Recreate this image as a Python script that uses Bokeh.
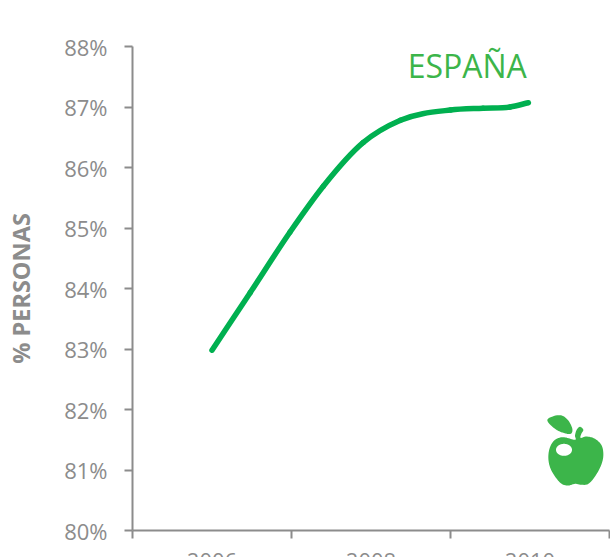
from bokeh.plotting import figure
from bokeh.embed import file_html
from bokeh.resources import INLINE
from bokeh.models import FixedTicker, Range1d, Label
import numpy as np

years = [2006.0, 2006.48, 2006.98, 2007.40, 2007.90, 2008.37, 2009.0, 2009.41, 2009.75, 2009.98]
espana = [82.98, 83.93, 84.93, 85.69, 86.41, 86.78, 86.95, 86.98, 87.00, 87.07]
x_labels = [2006, 2008, 2010]
x_bounds = [2005, 2007, 2009, 2011]
y_ticks = [80, 81, 82, 83, 84, 85, 86, 87, 88]
GREY = "#8C8C8C"
GREEN = "#00B050"
APPLE = "#3CB54A"

p = figure(width=603, height=549, output_backend="svg", toolbar_location=None,
           x_range=Range1d(2005, 2011), y_range=Range1d(80, 88),
           min_border_left=132, min_border_right=1, min_border_top=46, min_border_bottom=0,
           frame_height=484, frame_width=477)
p.outline_line_color = None
p.grid.visible = False
p.background_fill_color = "white"

xa = p.xaxis[0]
xa.ticker = FixedTicker(ticks=x_labels, minor_ticks=x_bounds)
xa.major_tick_line_color = None
xa.minor_tick_line_color = GREY
xa.minor_tick_line_width = 2
xa.minor_tick_out = 8
xa.minor_tick_in = 0
xa.major_tick_out = 0
xa.major_tick_in = 0
xa.axis_line_color = GREY
xa.axis_line_width = 2
xa.major_label_text_color = GREY
xa.major_label_text_font = "Open Sans"
xa.major_label_text_font_size = "22px"
xa.major_label_standoff = 14

ya = p.yaxis[0]
ya.ticker = FixedTicker(ticks=y_ticks)
ya.major_label_overrides = {t: f"{t}%" for t in y_ticks}
ya.minor_tick_line_color = None
ya.major_tick_line_color = GREY
ya.major_tick_line_width = 2
ya.major_tick_out = 8
ya.major_tick_in = 0
ya.axis_line_color = GREY
ya.axis_line_width = 2
ya.major_label_text_color = GREY
ya.major_label_text_font = "Open Sans"
ya.major_label_text_font_size = "22px"
ya.major_label_standoff = 17
ya.axis_label = "% PERSONAS"
ya.axis_label_text_color = GREY
ya.axis_label_text_font = "Open Sans"
ya.axis_label_text_font_style = "bold"
ya.axis_label_text_font_size = "23.5px"
ya.axis_label_standoff = 24

# smooth curve through the values: one Bezier per interval, tangents from the neighbours
xv, yv = np.array(years), np.array(espana)
step = np.diff(xv) / 3
slope = np.gradient(yv, xv)
p.bezier(x0=xv[:-1], y0=yv[:-1], x1=xv[1:], y1=yv[1:],
         cx0=xv[:-1] + step, cy0=yv[:-1] + slope[:-1] * step,
         cx1=xv[1:] - step, cy1=yv[1:] - slope[1:] * step,
         line_color=GREEN, line_width=5.5, line_cap="round")

p.add_layout(Label(x=2009.96, y=87.68, text="ESPAÑA", text_color=APPLE, text_font="Open Sans",
                   text_font_size="32px", text_align="right", text_baseline="middle"))


def smooth(pts, n=12):
    # closed Catmull-Rom outline, traced over the icon, in picture pixels
    pts = np.array(pts, float)
    out = []
    m = len(pts)
    for i in range(m):
        a, b, c, d = pts[i - 1], pts[i], pts[(i + 1) % m], pts[(i + 2) % m]
        for t in np.linspace(0, 1, n, endpoint=False):
            out.append(0.5 * (2 * b + (c - a) * t + (2 * a - 5 * b + 4 * c - d) * t ** 2
                              + (3 * b - a - 3 * c + d) * t ** 3))
    return np.array(out)


def icon(pts, color, ox=519.5, oy=400):
    s = smooth(pts)
    px, py = ox + s[:, 0] / 3, oy + s[:, 1] / 3
    xs = 2005 + (px - 132) / 477 * 6
    ys = 80 + (530 - py) / 484 * 8
    p.patch(xs, ys, fill_color=color, line_color=None)


body = [(165, 118), (130, 110), (105, 118), (90, 140), (85, 170), (90, 200), (105, 228), (125, 250),
        (145, 255), (165, 250), (185, 253), (205, 250), (225, 228), (243, 195), (250, 165),
        (245, 135), (225, 115), (200, 108), (182, 112), (184, 100), (190, 88), (180, 79),
        (170, 88), (165, 105)]
leaf = [(82, 60), (100, 47), (125, 45), (145, 60), (157, 85), (152, 100), (130, 97), (105, 85)]
t = np.linspace(0, 2 * np.pi, 16, endpoint=False)
spot = list(zip(132 + 24 * np.cos(t), 148 + 18 * np.sin(t)))
icon(body, APPLE)
icon(leaf, APPLE)
icon(spot, "white")

open("out.html", "w").write(file_html(p, INLINE))
